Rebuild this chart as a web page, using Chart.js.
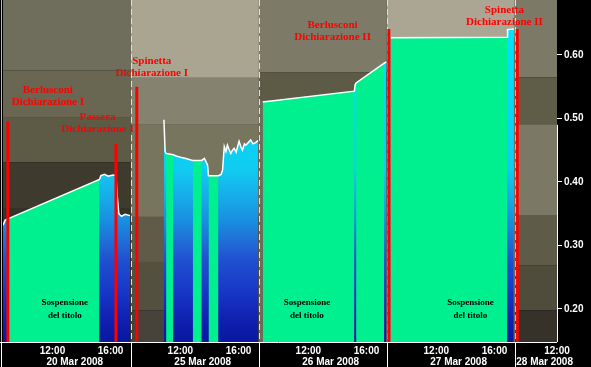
<!DOCTYPE html>
<html>
<head>
<meta charset="utf-8">
<script src="https://cdn.jsdelivr.net/npm/chart.js@4.4.0/dist/chart.umd.min.js"></script>
<style>
  html, body { margin: 0; padding: 0; background: #000; }
</style>
</head>
<body>
<canvas id="priceChart" width="591" height="367"></canvas>
<script>
// Trading days, one panel each
const days = ['20 Mar 2008', '25 Mar 2008', '26 Mar 2008', '27 Mar 2008', '28 Mar 2008'];

// Price per day (time of day, price in EUR)
const mar20Times  = ['08:36', '08:45', '08:56', '15:14', '15:20', '15:35', '15:50', '16:10', '16:22', '16:28', '16:34', '16:45', '17:00', '17:20'];
const mar20Prices = [0.332, 0.340, 0.342, 0.404, 0.410, 0.412, 0.409, 0.411, 0.410, 0.375, 0.350, 0.346, 0.349, 0.347];

const mar25Times  = ['10:52', '10:57', '11:01', '11:31', '11:35', '11:50', '12:10', '12:23', '12:40', '12:51', '13:28', '13:39', '13:52', '13:56', '14:37', '14:48', '14:54', '15:01', '15:08', '15:14', '15:20', '15:28', '15:35', '15:42', '15:50', '16:02', '16:10', '16:16', '16:24', '16:30', '16:40', '16:50', '17:00', '17:10', '17:20'];
const mar25Prices = [0.498, 0.448, 0.445, 0.443, 0.442, 0.440, 0.438, 0.437, 0.435, 0.434, 0.434, 0.437, 0.427, 0.410, 0.410, 0.412, 0.419, 0.456, 0.448, 0.458, 0.452, 0.445, 0.450, 0.453, 0.447, 0.464, 0.455, 0.450, 0.460, 0.458, 0.462, 0.466, 0.460, 0.462, 0.465];

const mar26Times  = ['08:52', '15:10', '15:13', '15:17', '17:13', '17:22'];
const mar26Prices = [0.526, 0.543, 0.553, 0.556, 0.587, 0.589];

const mar27Times  = ['08:52', '16:53', '16:54', '17:20'];
const mar27Prices = [0.627, 0.628, 0.640, 0.641];

const mar28Times  = [];
const mar28Prices = [];

// Trading suspensions: [day, from, to]
const suspensions = [
  [0, '08:56', '15:14'],
  [1, '11:01', '11:31'],
  [1, '12:51', '13:28'],
  [1, '13:56', '14:37'],
  [2, '08:52', '15:10'],
  [2, '15:17', '17:13'],
  [3, '08:52', '16:53']
];

// Statements (red markers)
const eventNames = [['Berlusconi', 'Dichiarazione I'], ['Passera', 'Dichiarazione I'], ['Spinetta', 'Dichiarazione I'], ['Berlusconi', 'Dichiarazione II'], ['Spinetta', 'Dichiarazione II']];
const eventDays  = [0, 0, 1, 3, 4];
const eventTimes = ['08:56', '16:22', '09:00', '08:44', '08:46'];
const eventTops  = [0.495, 0.460, 0.550, 0.641, 0.641];

// Axis ticks
const timeTicks  = [[0, '12:00'], [0, '16:00'], [1, '12:00'], [1, '16:00'], [2, '12:00'], [2, '16:00'], [3, '12:00'], [3, '16:00'], [4, '12:00']];
const priceTicks = [0.20, 0.30, 0.40, 0.50, 0.60];

// each day panel runs 08:36 - 17:24, the last one stops at 11:30
const DAY_START = 8.6, DAY_LEN = 8.8;
const XMAX = 4 * DAY_LEN + (11.5 - DAY_START);
const YMIN = 0.148, YMAX = 0.6866;

// where the texts sit: [day, time, price]
const eventLabelAt = [[0, '11:41', 0.545], [0, '15:06', 0.502], [1, '10:02', 0.5906], [2, '13:40', 0.647], [3, '16:41', 0.671]];
const suspLabelAt  = [[0, '12:51'], [2, '11:54'], [3, '14:21']];

// volume-at-price shading behind each panel: [top price, colour]
const panelBands = [
  [[YMAX, '#6f6d5c'], [0.576, '#696751'], [0.501, '#5d5a46'], [0.431, '#3e3b2e'], [0.359, '#35322a']],
  [[YMAX, '#a9a591'], [0.564, '#858270'], [0.490, '#78755f'], [0.345, '#5f5b48'], [0.274, '#545040'], [0.198, '#47433a']],
  [[YMAX, '#7d7a67'], [0.573, '#5d5a46'], [0.529, '#6e6b57']],
  [[YMAX, '#aaa693'], [0.627, '#8a8774']],
  [[YMAX, '#7c7967'], [0.565, '#5f5c47'], [0.491, '#7b7865'], [0.348, '#5e5b48'], [0.269, '#504c3b'], [0.198, '#36322a']]
];

const blueStops = [[0.66, '#00e4fc'], [0.42, '#10ccf0'], [0.372, '#18a8e8'], [0.34, '#1890e0'], [0.309, '#2070d8'], [0.277, '#2050d0'], [0.23, '#1838c8'], [0.183, '#1020b0'], [0.15, '#0818a0']];

function hrs(t) {
  const [h, m] = t.split(':').map(Number);
  return h + m / 60;
}
function toX(day, t) {
  return Math.min(day * DAY_LEN + hrs(t) - DAY_START, XMAX);
}
function isSuspended(day, t) {
  return suspensions.some(([d, a, b]) => d === day && hrs(t) >= hrs(a) && hrs(t) <= hrs(b));
}

const dayTimes  = [mar20Times, mar25Times, mar26Times, mar27Times, mar28Times];
const dayPrices = [mar20Prices, mar25Prices, mar26Prices, mar27Prices, mar28Prices];

const pricePoints = [];
const suspPoints = [];
dayTimes.forEach((times, d) => {
  times.forEach((t, i) => {
    const x = toX(d, t);
    pricePoints.push({ x: x, y: dayPrices[d][i] });
    suspPoints.push({ x: x, y: isSuspended(d, t) ? dayPrices[d][i] : null });
  });
  // break the line between days
  pricePoints.push({ x: (d + 1) * DAY_LEN - 0.01, y: null });
  suspPoints.push({ x: (d + 1) * DAY_LEN - 0.01, y: null });
});

function blueFill(context) {
  const chart = context.chart;
  const y = chart.scales.y;
  if (!chart.chartArea || !y) return '#00c8f0';
  const top = y.getPixelForValue(YMAX), bottom = y.getPixelForValue(YMIN);
  const g = chart.ctx.createLinearGradient(0, top, 0, bottom);
  blueStops.forEach(([p, c]) => g.addColorStop((y.getPixelForValue(p) - top) / (bottom - top), c));
  return g;
}

const backdrop = {
  id: 'backdrop',
  beforeDraw(chart) {
    const ctx = chart.ctx;
    ctx.save();
    ctx.fillStyle = '#000';
    ctx.fillRect(0, 0, chart.width, chart.height);
    ctx.restore();
  },
  beforeDatasetsDraw(chart) {
    const { ctx, chartArea: a, scales: { x, y } } = chart;
    ctx.save();
    panelBands.forEach((bands, d) => {
      const x0 = x.getPixelForValue(d * DAY_LEN);
      const x1 = x.getPixelForValue(Math.min((d + 1) * DAY_LEN, XMAX));
      bands.forEach(([top, color], i) => {
        const bottom = i + 1 < bands.length ? bands[i + 1][0] : YMIN;
        const y0 = y.getPixelForValue(top), y1 = y.getPixelForValue(bottom);
        ctx.fillStyle = color;
        ctx.fillRect(x0, y0, x1 - x0, y1 - y0);
      });
    });
    ctx.strokeStyle = '#e0e0e0';
    ctx.lineWidth = 1;
    ctx.setLineDash([6, 3]);
    for (let d = 1; d < days.length; d++) {
      const px = Math.round(x.getPixelForValue(d * DAY_LEN)) + 0.5;
      ctx.beginPath();
      ctx.moveTo(px, a.top);
      ctx.lineTo(px, a.bottom);
      ctx.stroke();
    }
    ctx.restore();
  }
};

const overlay = {
  id: 'overlay',
  afterDatasetsDraw(chart) {
    const { ctx, chartArea: a, scales: { x, y } } = chart;
    ctx.save();

    // statement markers
    ctx.strokeStyle = '#ff0000';
    ctx.lineWidth = 3;
    eventDays.forEach((d, i) => {
      const px = x.getPixelForValue(toX(d, eventTimes[i]));
      ctx.beginPath();
      ctx.moveTo(px, y.getPixelForValue(eventTops[i]));
      ctx.lineTo(px, a.bottom);
      ctx.stroke();
    });

    ctx.fillStyle = '#ff0000';
    ctx.font = 'bold 11px "Liberation Serif", serif';
    ctx.textAlign = 'center';
    ctx.textBaseline = 'middle';
    eventLabelAt.forEach(([d, t, p], i) => {
      const px = x.getPixelForValue(toX(d, t)), py = y.getPixelForValue(p);
      ctx.fillText(eventNames[i][0], px, py);
      ctx.fillText(eventNames[i][1], px, py + 12);
    });

    ctx.fillStyle = '#000';
    ctx.font = 'bold 9px "Liberation Serif", serif';
    suspLabelAt.forEach(([d, t]) => {
      const px = x.getPixelForValue(toX(d, t));
      ctx.fillText('Sospensione', px, y.getPixelForValue(0.2094));
      ctx.fillText('del titolo', px, y.getPixelForValue(0.189));
    });

    // frame lines
    ctx.strokeStyle = '#ffffff';
    ctx.lineWidth = 1;
    ctx.beginPath();
    ctx.moveTo(0, a.bottom + 0.5);
    ctx.lineTo(a.right, a.bottom + 0.5);
    ctx.moveTo(a.right + 0.5, y.getPixelForValue(0.49));
    ctx.lineTo(a.right + 0.5, a.bottom);
    ctx.moveTo(1.5, a.bottom);
    ctx.lineTo(1.5, chart.height);
    for (let d = 1; d < days.length; d++) {
      const px = Math.round(x.getPixelForValue(d * DAY_LEN)) + 0.5;
      ctx.moveTo(px, a.bottom);
      ctx.lineTo(px, chart.height);
    }
    ctx.stroke();
    ctx.strokeStyle = '#b8b8b0';
    ctx.beginPath();
    ctx.moveTo(1.5, a.top);
    ctx.lineTo(1.5, a.bottom);
    ctx.stroke();
    ctx.restore();
  }
};

const axisFont = { family: '"Liberation Sans", Arial, sans-serif', size: 10, weight: 'bold' };

window.onload = function() {
  const ctx = document.getElementById('priceChart').getContext('2d');
  new Chart(ctx, {
    type: 'line',
    data: {
      datasets: [
        {
          label: 'Prezzo',
          data: pricePoints,
          borderColor: '#ffffff',
          borderWidth: 1.5,
          fill: false,
          pointRadius: 0,
          tension: 0
        },
        {
          label: 'Sospensione',
          data: suspPoints,
          borderWidth: 0,
          borderColor: 'rgba(0,0,0,0)',
          backgroundColor: '#00f090',
          fill: 'start',
          pointRadius: 0,
          tension: 0
        },
        {
          label: 'Contrattazioni',
          data: pricePoints,
          borderWidth: 0,
          borderColor: 'rgba(0,0,0,0)',
          backgroundColor: blueFill,
          fill: 'start',
          pointRadius: 0,
          tension: 0
        }
      ]
    },
    options: {
      responsive: false,
      animation: false,
      spanGaps: false,
      layout: { padding: { left: 3, top: 0, right: 0, bottom: 0 } },
      plugins: {
        legend: { display: false },
        tooltip: { enabled: false }
      },
      scales: {
        x: {
          type: 'linear',
          position: 'bottom',
          weight: 0,
          min: 0,
          max: XMAX,
          afterBuildTicks: s => { s.ticks = timeTicks.map(([d, t]) => ({ value: toX(d, t) })); },
          afterFit: s => { s.height = 13; s.paddingLeft = 0; s.paddingRight = 0; },
          ticks: {
            autoSkip: false,
            maxRotation: 0,
            color: '#ffffff',
            font: axisFont,
            padding: 3,
            callback: (v, i) => timeTicks[i][1]
          },
          grid: { display: false, drawTicks: false },
          border: { display: false }
        },
        x2: {
          type: 'linear',
          position: 'bottom',
          weight: 1,
          min: 0,
          max: XMAX,
          afterBuildTicks: s => {
            s.ticks = days.map((name, d) => ({ value: toX(d, d < 4 ? '13:32' : '10:39') }));
          },
          afterFit: s => { s.height = 12; s.paddingLeft = 0; s.paddingRight = 0; },
          ticks: {
            autoSkip: false,
            maxRotation: 0,
            color: '#ffffff',
            font: axisFont,
            padding: 1,
            callback: (v, i) => days[i]
          },
          grid: { display: false, drawTicks: false },
          border: { display: false }
        },
        y: {
          type: 'linear',
          position: 'right',
          min: YMIN,
          max: YMAX,
          afterBuildTicks: s => { s.ticks = priceTicks.map(v => ({ value: v })); },
          afterFit: s => { s.width = 34; s.paddingTop = 0; s.paddingBottom = 0; },
          ticks: {
            color: '#ffffff',
            font: axisFont,
            padding: 2,
            callback: v => v.toFixed(2)
          },
          grid: { drawOnChartArea: false, drawTicks: true, tickLength: 5, color: '#ffffff' },
          border: { display: false }
        }
      }
    },
    plugins: [backdrop, overlay]
  });
};
</script>
</body>
</html>
